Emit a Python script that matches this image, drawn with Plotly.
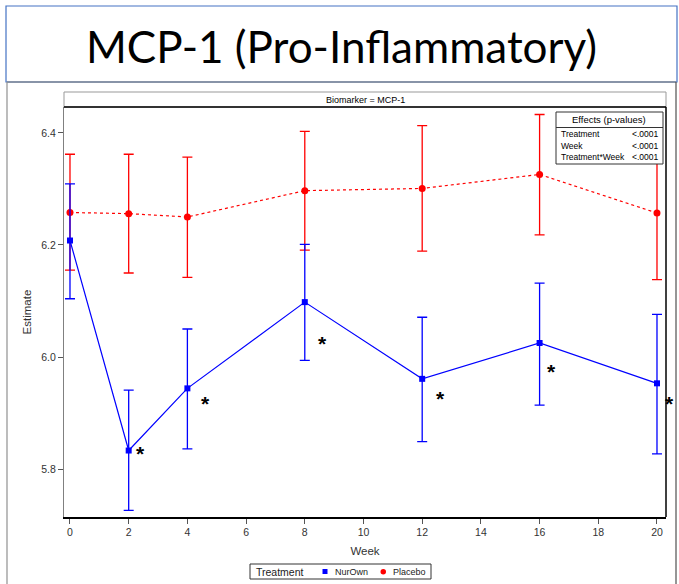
import plotly.graph_objects as go

# ---------------- data ----------------
weeks = [0, 2, 4, 8, 12, 16, 20]
placebo_est = [6.258, 6.256, 6.250, 6.297, 6.301, 6.326, 6.257]
placebo_upper = [6.362, 6.362, 6.357, 6.403, 6.413, 6.433, 6.376]
placebo_lower = [6.155, 6.150, 6.142, 6.191, 6.189, 6.218, 6.138]
nurown_est = [6.208, 5.833, 5.944, 6.098, 5.961, 6.025, 5.953]
nurown_upper = [6.309, 5.941, 6.050, 6.201, 6.071, 6.132, 6.076]
nurown_lower = [6.104, 5.726, 5.836, 5.994, 5.849, 5.914, 5.827]
star_x = [2.41, 4.62, 8.59, 12.63, 16.39, 20.44]
star_y = [5.835, 5.924, 6.032, 5.933, 5.981, 5.925]
x_ticks = list(range(0, 21, 2))
y_ticks = [5.8, 6.0, 6.2, 6.4]
effects = [("Treatment", "<.0001"), ("Week", "<.0001"), ("Treatment*Week", "<.0001")]
legend_title = "Treatment"
series_names = ["NurOwn", "Placebo"]
slide_title = "MCP-1 (Pro-Inflammatory)"
panel_label = "Biomarker = MCP-1"

# ---------------- layout helpers ----------------
FW, FH = 679, 584
L, R, T, B = 64, 666, 107, 517
X_RANGE = [-0.204, 20.307]
Y_RANGE = [5.7143, 6.4464]


def px(x):
    return (x - L) / (R - L)


def py(y):
    return (B - y) / (B - T)


RED = "#FF0000"
BLUE = "#0000FF"
SAS_FONT = "Liberation Sans, Arial, sans-serif"

fig = go.Figure()

fig.add_trace(go.Scatter(
    x=weeks, y=placebo_est, mode="lines+markers", name=series_names[1], showlegend=False,
    line=dict(color=RED, width=1.2, dash="dot"),
    marker=dict(symbol="circle", size=7, color=RED),
    error_y=dict(type="data", symmetric=False,
                 array=[u - e for u, e in zip(placebo_upper, placebo_est)],
                 arrayminus=[e - l for l, e in zip(placebo_lower, placebo_est)],
                 color=RED, thickness=1.3, width=5),
))
fig.add_trace(go.Scatter(
    x=weeks, y=nurown_est, mode="lines+markers", name=series_names[0], showlegend=False,
    line=dict(color=BLUE, width=1.2),
    marker=dict(symbol="square", size=6, color=BLUE),
    error_y=dict(type="data", symmetric=False,
                 array=[u - e for u, e in zip(nurown_upper, nurown_est)],
                 arrayminus=[e - l for l, e in zip(nurown_lower, nurown_est)],
                 color=BLUE, thickness=1.3, width=5),
))

annotations = []
for sx, sy in zip(star_x, star_y):
    # paper-referenced so the star beyond the last week is not hidden
    annotations.append(dict(x=(sx - X_RANGE[0]) / (X_RANGE[1] - X_RANGE[0]),
                            y=(sy - Y_RANGE[0]) / (Y_RANGE[1] - Y_RANGE[0]),
                            xref="paper", yref="paper", xanchor="center", yanchor="middle",
                            text="<b>*</b>", showarrow=False,
                            font=dict(size=21, color="black", family=SAS_FONT),
                            yshift=-4))

# slide title
annotations.append(dict(x=px(341), y=py(46), xref="paper", yref="paper", text=slide_title,
                        showarrow=False, font=dict(size=44, color="black", family="Lato"),
                        xanchor="center", yanchor="middle"))
# panel label
annotations.append(dict(x=px(365), y=py(99.5), xref="paper", yref="paper", text=panel_label,
                        showarrow=False, font=dict(size=9, color="black", family=SAS_FONT),
                        xanchor="center", yanchor="middle"))
# effects inset
annotations.append(dict(x=px(609), y=py(119.5), xref="paper", yref="paper",
                        text="Effects (p-values)", showarrow=False,
                        font=dict(size=9.5, color="black", family=SAS_FONT),
                        xanchor="center", yanchor="middle"))
for i, (lab, val) in enumerate(effects):
    yy = 134 + i * 11.5
    annotations.append(dict(x=px(558.5), y=py(yy), xref="paper", yref="paper", text=lab,
                            showarrow=False, font=dict(size=8.5, color="black", family=SAS_FONT),
                            xanchor="left", yanchor="middle"))
    annotations.append(dict(x=px(661), y=py(yy), xref="paper", yref="paper", text=val,
                            showarrow=False, font=dict(size=8.5, color="black", family=SAS_FONT),
                            xanchor="right", yanchor="middle"))

# manual legend texts
annotations.append(dict(x=px(254), y=py(572), xref="paper", yref="paper", text=legend_title,
                        showarrow=False, font=dict(size=10.5, color="#222", family=SAS_FONT),
                        xanchor="left", yanchor="middle"))
annotations.append(dict(x=px(333), y=py(571.5), xref="paper", yref="paper", text=series_names[0],
                        showarrow=False, font=dict(size=9, color="#222", family=SAS_FONT),
                        xanchor="left", yanchor="middle"))
annotations.append(dict(x=px(391), y=py(571.5), xref="paper", yref="paper", text=series_names[1],
                        showarrow=False, font=dict(size=9, color="#222", family=SAS_FONT),
                        xanchor="left", yanchor="middle"))

shapes = [
    # slide title box (blue)
    dict(type="rect", xref="paper", yref="paper", x0=px(6), x1=px(677), y0=py(82), y1=py(6),
         line=dict(color="#4472C4", width=1.2), layer="above"),
    # SAS graph border (gray)
    dict(type="line", xref="paper", yref="paper", x0=px(7), x1=px(676), y0=py(82), y1=py(82),
         line=dict(color="#707070", width=1.2)),
    dict(type="line", xref="paper", yref="paper", x0=px(7), x1=px(7), y0=py(82), y1=py(590),
         line=dict(color="#909090", width=1.2)),
    dict(type="line", xref="paper", yref="paper", x0=px(676), x1=px(676), y0=py(82), y1=py(590),
         line=dict(color="#505050", width=1.2)),
    # panel header strip
    dict(type="rect", xref="paper", yref="paper", x0=px(64), x1=px(666), y0=py(107), y1=py(92),
         line=dict(color="#999999", width=1), fillcolor="white"),
    dict(type="line", xref="paper", yref="paper", x0=px(64), x1=px(666), y0=py(107), y1=py(107),
         line=dict(color="black", width=1.5)),
    # right frame
    dict(type="line", xref="paper", yref="paper", x0=1, x1=1, y0=0, y1=1,
         line=dict(color="black", width=1.5)),
    # effects inset box
    dict(type="rect", xref="paper", yref="paper", x0=px(556), x1=px(663), y0=py(164), y1=py(112),
         line=dict(color="#333333", width=1), fillcolor="white", layer="above"),
    dict(type="line", xref="paper", yref="paper", x0=px(556), x1=px(663), y0=py(127.5), y1=py(127.5),
         line=dict(color="#333333", width=1), layer="above"),
    # manual legend box and symbols
    dict(type="rect", xref="paper", yref="paper", x0=px(250), x1=px(431), y0=py(579), y1=py(564),
         line=dict(color="#333333", width=1), fillcolor="white"),
    dict(type="rect", xref="paper", yref="paper", x0=px(322.5), x1=px(327.5), y0=py(574), y1=py(569),
         line=dict(width=0), fillcolor=BLUE),
    dict(type="circle", xref="paper", yref="paper", x0=px(380.5), x1=px(386), y0=py(574.5), y1=py(569),
         line=dict(width=0), fillcolor=RED),
]

fig.update_layout(
    width=FW, height=FH,
    margin=dict(l=L, r=FW - R, t=T, b=FH - B, pad=0, autoexpand=False),
    paper_bgcolor="white", plot_bgcolor="white",
    font=dict(family=SAS_FONT, size=10, color="#333333"),
    annotations=annotations, shapes=shapes, showlegend=False,
    xaxis=dict(range=X_RANGE, tickvals=x_ticks, ticks="outside", ticklen=5,
               tickcolor="#555", tickfont=dict(size=10.5, color="#333"),
               showgrid=False, zeroline=False, showline=True, linecolor="black", linewidth=1.5,
               mirror=False, automargin=False,
               title=dict(text="Week", font=dict(size=11.5, color="#333"), standoff=10)),
    yaxis=dict(range=Y_RANGE, tickvals=y_ticks, tickformat=".1f", ticks="outside",
               ticklen=5, tickcolor="#555", tickfont=dict(size=10.5, color="#333"),
               showgrid=False, zeroline=False, showline=True, linecolor="#808080", linewidth=1.3,
               automargin=False,
               title=dict(text="Estimate", font=dict(size=11.5, color="#333"), standoff=7)),
)
fig.update_traces(cliponaxis=False)

fig.write_html("out.html")
